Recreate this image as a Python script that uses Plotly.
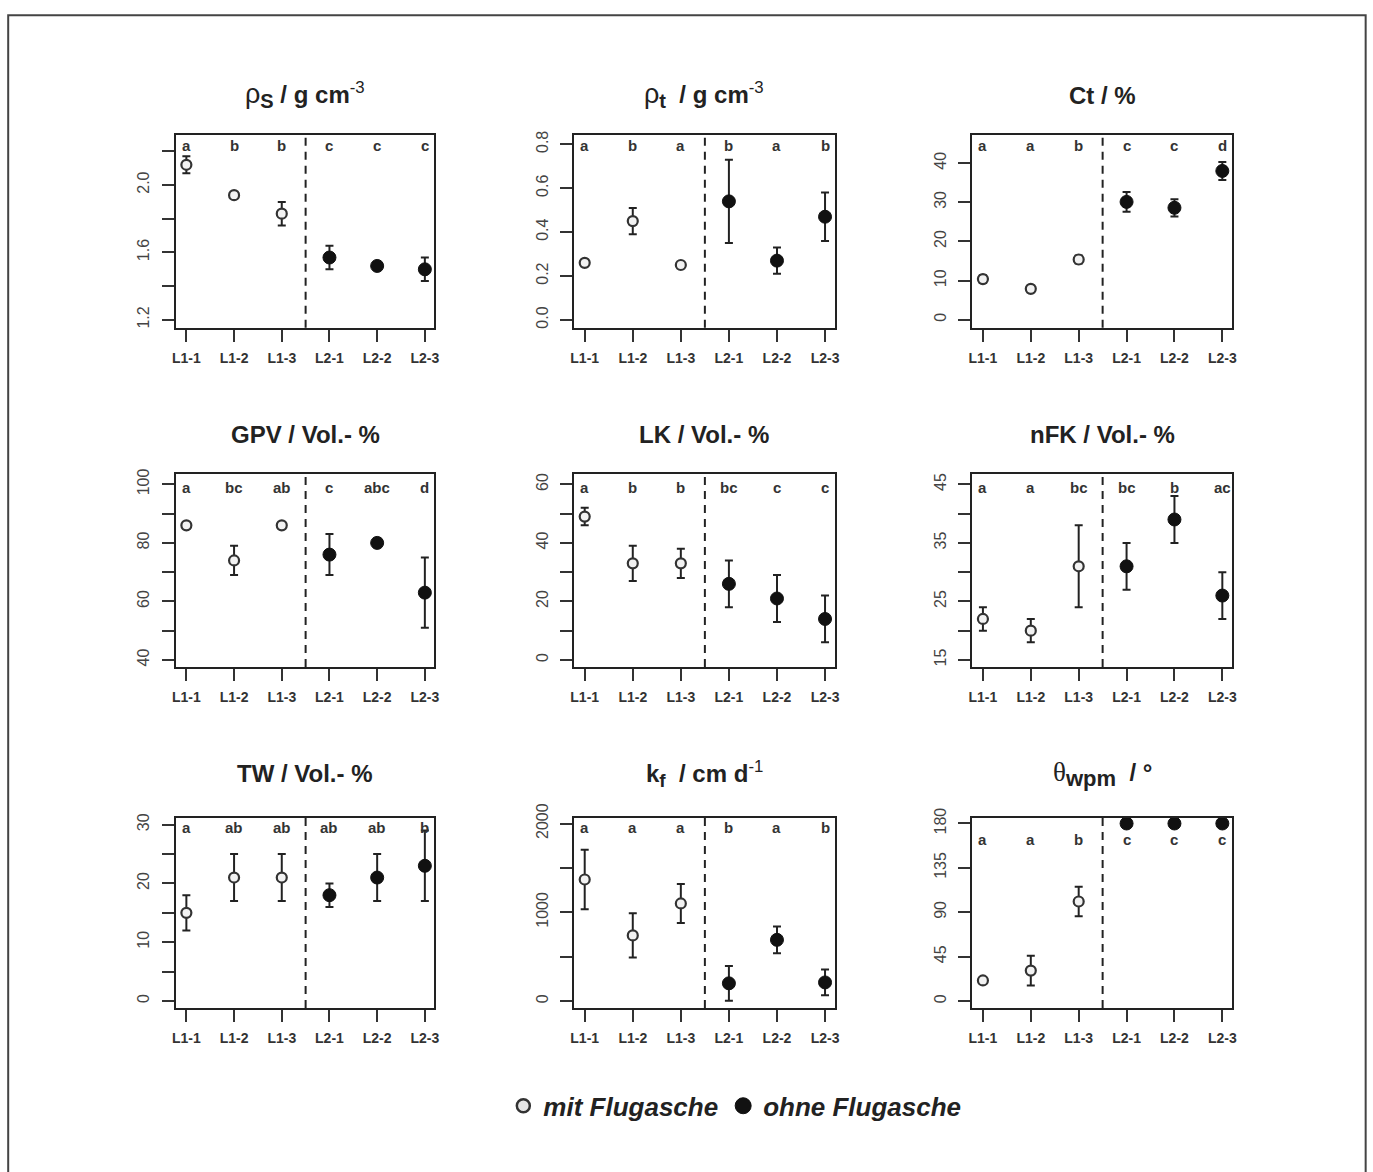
import plotly.graph_objects as go

W, H = 1373, 1172

# ---------------- data ----------------
categories = ["L1-1", "L1-2", "L1-3", "L2-1", "L2-2", "L2-3"]
cat_pos = [1, 2, 3, 4, 5, 6]

rho_s_mean = [2.12, 1.94, 1.83, 1.57, 1.52, 1.50]
rho_s_err = [0.05, 0.0, 0.07, 0.07, 0.0, 0.07]
rho_s_letters = ["a", "b", "b", "c", "c", "c"]

rho_t_mean = [0.26, 0.45, 0.25, 0.54, 0.27, 0.47]
rho_t_err = [0.0, 0.06, 0.0, 0.19, 0.06, 0.11]
rho_t_letters = ["a", "b", "a", "b", "a", "b"]

ct_mean = [10.4, 7.9, 15.4, 30.1, 28.6, 38.0]
ct_err = [1.0, 0.0, 1.0, 2.5, 2.2, 2.3]
ct_letters = ["a", "a", "b", "c", "c", "d"]

gpv_mean = [86, 74, 86, 76, 80, 63]
gpv_err = [0, 5, 0, 7, 1.5, 12]
gpv_letters = ["a", "bc", "ab", "c", "abc", "d"]

lk_mean = [49, 33, 33, 26, 21, 14]
lk_err = [3, 6, 5, 8, 8, 8]
lk_letters = ["a", "b", "b", "bc", "c", "c"]

nfk_mean = [22, 20, 31, 31, 39, 26]
nfk_err = [2, 2, 7, 4, 4, 4]
nfk_letters = ["a", "a", "bc", "bc", "b", "ac"]

tw_mean = [15, 21, 21, 18, 21, 23]
tw_err = [3, 4, 4, 2, 4, 6]
tw_letters = ["a", "ab", "ab", "ab", "ab", "b"]

kf_mean = [1370, 740, 1100, 200, 690, 210]
kf_err = [335, 250, 220, 195, 150, 145]
kf_letters = ["a", "a", "a", "b", "a", "b"]

theta_mean = [21, 31, 101, 180, 180, 180]
theta_err = [0, 15, 15, 0, 0, 0]
theta_letters = ["a", "a", "b", "c", "c", "c"]

# y tick values and labels
rho_s_ticks = [1.2, 1.4, 1.6, 1.8, 2.0, 2.2]
rho_s_ticklabels = ["1.2", "", "1.6", "", "2.0", ""]
rho_t_ticks = [0.0, 0.2, 0.4, 0.6, 0.8]
rho_t_ticklabels = ["0.0", "0.2", "0.4", "0.6", "0.8"]
ct_ticks = [0, 10, 20, 30, 40]
ct_ticklabels = ["0", "10", "20", "30", "40"]
gpv_ticks = [40, 50, 60, 70, 80, 90, 100]
gpv_ticklabels = ["40", "", "60", "", "80", "", "100"]
lk_ticks = [0, 10, 20, 30, 40, 50, 60]
lk_ticklabels = ["0", "", "20", "", "40", "", "60"]
nfk_ticks = [15, 20, 25, 30, 35, 40, 45]
nfk_ticklabels = ["15", "", "25", "", "35", "", "45"]
tw_ticks = [0, 5, 10, 15, 20, 25, 30]
tw_ticklabels = ["0", "", "10", "", "20", "", "30"]
kf_ticks = [0, 500, 1000, 1500, 2000]
kf_ticklabels = ["0", "", "1000", "", "2000"]
theta_ticks = [0, 45, 90, 135, 180]
theta_ticklabels = ["0", "45", "90", "135", "180"]

SUB = "<sub><span style='font-size:{}px'><b>{}</b></span></sub>"
titles = [
    "<span style='font-size:27px'>ρ</span>" + SUB.format(20, "S") + "<b> / g cm</b><sup>-3</sup>",
    "<span style='font-size:27px'>ρ</span>" + SUB.format(20, "t") + "<b>  / g cm</b><sup>-3</sup>",
    "<b>Ct / %</b>",
    "<b>GPV / Vol.- %</b>",
    "<b>LK / Vol.- %</b>",
    "<b>nFK / Vol.- %</b>",
    "<b>TW / Vol.- %</b>",
    "<b>k</b>" + SUB.format(19, "f") + "<b>  / cm d</b><sup>-1</sup>",
    "<span style='font-family:Liberation Serif;font-size:27px'>θ</span>"
    + SUB.format(22, "wpm") + "<b>  / °</b>",
]

series_names = ["mit Flugasche", "ohne Flugasche"]

panels = [
    (rho_s_mean, rho_s_err, rho_s_letters, rho_s_ticks, rho_s_ticklabels),
    (rho_t_mean, rho_t_err, rho_t_letters, rho_t_ticks, rho_t_ticklabels),
    (ct_mean, ct_err, ct_letters, ct_ticks, ct_ticklabels),
    (gpv_mean, gpv_err, gpv_letters, gpv_ticks, gpv_ticklabels),
    (lk_mean, lk_err, lk_letters, lk_ticks, lk_ticklabels),
    (nfk_mean, nfk_err, nfk_letters, nfk_ticks, nfk_ticklabels),
    (tw_mean, tw_err, tw_letters, tw_ticks, tw_ticklabels),
    (kf_mean, kf_err, kf_letters, kf_ticks, kf_ticklabels),
    (theta_mean, theta_err, theta_letters, theta_ticks, theta_ticklabels),
]

# ---------------- layout geometry ----------------
# target pixel positions (as seen in the reference picture), mapped through a
# small calibration of the rendered page
def px2x(v):
    return (v - 2.8) / 0.9953 / W


def px2y(v):
    return 1 - (v - 11.4) / 0.9897 / H


col_px = [(175, 434), (574, 835), (973, 1233)]
row_px = [(133, 326), (473, 666), (817, 1008)]
title_px = [93, 433, 773]
y_ranges = [
    [1.153, 2.295], [-0.036, 0.841], [-2.04, 47.1],
    [37.6, 103.4], [-2.4, 63.4], [13.8, 46.7],
    [-1.2, 31.2], [-79, 2068], [-7, 186],
]
letter_dom = [0.945, 0.945, 0.945, 0.93, 0.93, 0.93, 0.95, 0.95, 0.885]

FONT = "Liberation Sans, Arial, sans-serif"
DARK = "#222222"

fig = go.Figure()
layout = dict(
    width=W, height=H,
    margin=dict(l=0, r=0, t=0, b=0, pad=0),
    paper_bgcolor="white", plot_bgcolor="white",
    font=dict(family=FONT, color=DARK),
    showlegend=True,
    legend=dict(
        orientation="h", x=px2x(735), xanchor="center", y=px2y(1106), yanchor="middle",
        font=dict(family=FONT, size=26, color=DARK, weight="bold", style="italic"),
        bgcolor="rgba(0,0,0,0)", itemclick=False, itemdoubleclick=False,
        traceorder="normal", itemwidth=30,
    ),
)
annotations = []
shapes = []

for i, (mean, err, letters, ticks, ticklabels) in enumerate(panels):
    r, c = divmod(i, 3)
    sfx = "" if i == 0 else str(i + 1)
    xa, ya = "x" + sfx, "y" + sfx
    l, rr = col_px[c]
    t, b = row_px[r]
    layout["xaxis" + sfx] = dict(
        domain=[px2x(l), px2x(rr)], range=[0.78, 6.2], anchor=ya,
        tickmode="array", tickvals=cat_pos, ticktext=categories,
        ticks="outside", ticklen=12, tickwidth=2, tickcolor="#333",
        showline=True, linewidth=2, linecolor=DARK, mirror=True,
        showgrid=False, zeroline=False, fixedrange=True,
        tickfont=dict(family=FONT, size=14, color="#333", weight="bold"),
        ticklabelstandoff=4,
    )
    layout["yaxis" + sfx] = dict(
        domain=[px2y(b), px2y(t)], range=y_ranges[i], anchor=xa,
        tickmode="array", tickvals=ticks, ticktext=ticklabels,
        ticks="outside", ticklen=12, tickwidth=2, tickcolor="#333",
        showline=True, linewidth=2, linecolor=DARK, mirror=True,
        showgrid=False, zeroline=False, fixedrange=True, tickangle=-90,
        tickfont=dict(family=FONT, size=16, color="#444"),
        ticklabelstandoff=6,
    )
    fig.add_trace(go.Scatter(
        x=cat_pos[:3], y=mean[:3], xaxis=xa, yaxis=ya, mode="markers",
        name=series_names[0], legendgroup="mit", showlegend=False,
        marker=dict(symbol="circle", size=10, color="#f2f2f2",
                    line=dict(width=2.2, color="#333")),
        error_y=dict(type="data", array=err[:3], visible=True,
                     thickness=2, width=4, color=DARK),
    ))
    fig.add_trace(go.Scatter(
        x=cat_pos[3:], y=mean[3:], xaxis=xa, yaxis=ya, mode="markers",
        name=series_names[1], legendgroup="ohne", showlegend=False,
        marker=dict(symbol="circle", size=13, color="#111",
                    line=dict(width=1, color="#111")),
        error_y=dict(type="data", array=err[3:], visible=True,
                     thickness=2, width=4, color=DARK),
    ))
    shapes.append(dict(type="line", xref=xa, yref=ya + " domain",
                       x0=3.5, x1=3.5, y0=0, y1=1,
                       line=dict(color=DARK, width=2, dash="8px,6px")))
    for xp, lt in zip(cat_pos, letters):
        annotations.append(dict(
            x=xp, y=letter_dom[i], xref=xa, yref=ya + " domain",
            text="<b>" + lt + "</b>", showarrow=False,
            xanchor="center", yanchor="middle",
            font=dict(family=FONT, size=15, color="#333"),
        ))
    annotations.append(dict(
        x=px2x((l + rr) / 2), y=px2y(title_px[r]), xref="paper", yref="paper",
        text=titles[i], showarrow=False, xanchor="center", yanchor="middle",
        font=dict(family=FONT, size=24, color=DARK),
    ))

fig.add_trace(go.Scatter(
    x=[None], y=[None], mode="markers", name=series_names[0], legendgroup="mit",
    marker=dict(symbol="circle", size=13, color="#e6e6e6", line=dict(width=2.5, color="#333")),
))
fig.add_trace(go.Scatter(
    x=[None], y=[None], mode="markers", name=series_names[1], legendgroup="ohne",
    marker=dict(symbol="circle", size=16, color="#111", line=dict(width=1, color="#111")),
))

# outer frame
shapes.append(dict(type="rect", xref="paper", yref="paper",
                   x0=px2x(7), x1=px2x(1367), y0=-0.05, y1=1 - 1.2 / H,
                   line=dict(color="#444", width=2)))

layout["annotations"] = annotations
layout["shapes"] = shapes
fig.update_layout(**layout)

fig.write_html(
    "out.html",
    config={"displayModeBar": False},
    post_script=(
        "document.body.style.margin='0px';document.body.style.padding='0px';"
    ),
)
